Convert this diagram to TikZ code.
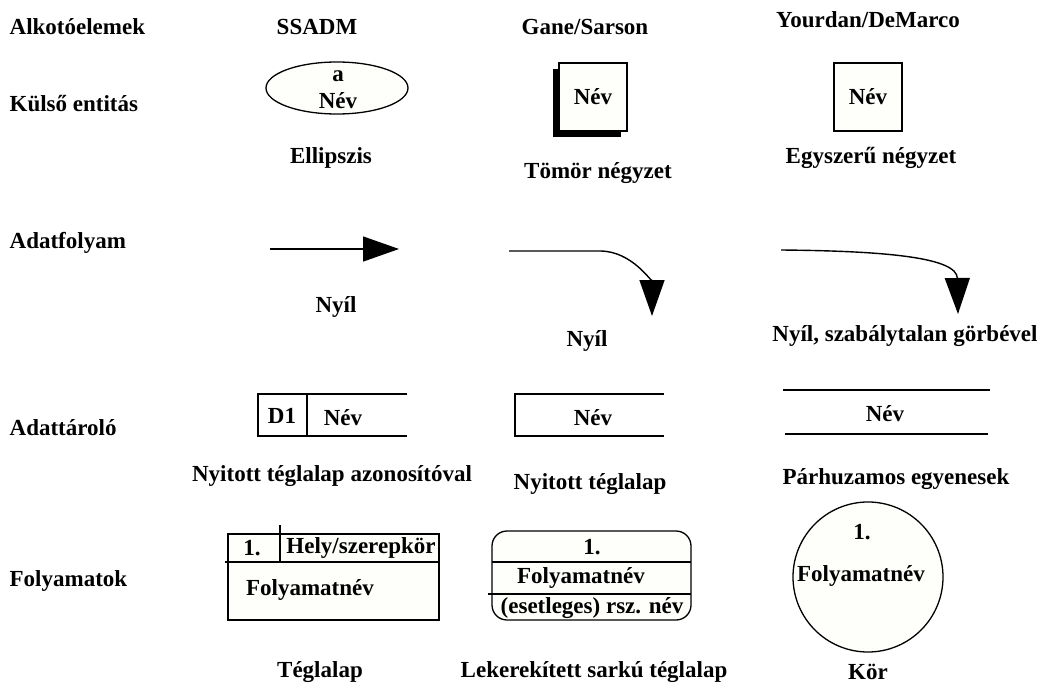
\documentclass[tikz,border=0pt]{standalone}
\usepackage{fontspec}
\setmainfont{Liberation Serif}
\usetikzlibrary{arrows.meta, positioning, shapes.geometric, shadows}
\definecolor{paper}{RGB}{254,254,250}

\begin{document}
\begin{tikzpicture}[x=1pt, y=-1pt, line width=1.3pt,
        every node/.style={font=\fontsize{23}{27}\selectfont\bfseries, inner sep=1pt},
        rowlabel/.style={anchor=west},
        flow/.style={-{Triangle[length=36pt, width=25pt]}, line width=1.4pt}]
            \useasboundingbox (0,0) rectangle (1039,685);

            % column and row headings
            \node (hdElem) [rowlabel] at (8,27) {Alkotóelemek};
            \node (hdSsadm) at (317,27) {SSADM};
            \node (hdGane) at (585,27) {Gane/Sarson};
            \node (hdYourdan) at (868,20) {Yourdan/DeMarco};
            \node (rowEnt) [rowlabel] at (8,104) {Külső entitás};
            \node (rowFlow) [rowlabel] at (8,243) {Adatfolyam};
            \node (rowStore) [rowlabel] at (8,428) {Adattároló};
            \node (rowProc) [rowlabel] at (8,581) {Folyamatok};

            % external entities
            \node (ssadmEnt) [ellipse, draw, fill=paper, minimum width=142pt, minimum height=52pt,
                align=center] at (337,88) {};
            \node (ssadmEntId) at (338,76) {a};
            \node (ssadmEntName) at (338,101) {Név};
            \node (ganeEnt) [draw, fill=paper, minimum size=68pt,
                drop shadow={shadow xshift=-6pt, shadow yshift=-6pt, fill=black, opacity=1}] at (593,97) {Név};
            \node (yourdanEnt) [draw, fill=paper, minimum size=68pt] at (868,97) {Név};
            \node (ssadmEntLbl) at (331,158) {Ellipszis};
            \node (ganeEntLbl) at (598,173) {Tömör négyzet};
            \node (yourdanEntLbl) at (871,158) {Egyszerű négyzet};

            % data flows
            \coordinate (f1a) at (270,249);
            \coordinate (f1b) at (399,249);
            \coordinate (f2a) at (509,251);
            \coordinate (f2m) at (600,251);
            \coordinate (f2b) at (652,316);
            \coordinate (f3a) at (781,250);
            \coordinate (f3b) at (958,314);
            \draw[flow] (f1a) -- (f1b);
            \draw[flow] (f2a) -- (f2m) to[out=0, in=90] (f2b);
            \draw[flow] (f3a) .. controls (890,251) and (957,258) .. (f3b);
            \node (ssadmFlowLbl) at (336,307) {Nyíl};
            \node (ganeFlowLbl) at (587,341) {Nyíl};
            \node (yourdanFlowLbl) at (905,336) {Nyíl, szabálytalan görbével};

            % data stores
            \draw (407,394) -- (258,394) -- (258,436) -- (407,436);
            \draw (307,394) -- (307,436);
            \node (ssadmStoreId) at (282,416) {D1};
            \node (ssadmStore) at (343,418) {Név};
            \draw (664,394) -- (515,394) -- (515,436) -- (664,436);
            \node (ganeStore) at (593,418) {Név};
            \draw (783,390) -- (990,390);
            \draw (785,434) -- (988,434);
            \node (yourdanStore) at (885,414) {Név};
            \node (ssadmStoreLbl) at (332,476) {Nyitott téglalap azonosítóval};
            \node (ganeStoreLbl) at (590,484) {Nyitott téglalap};
            \node (yourdanStoreLbl) at (896,479) {Párhuzamos egyenesek};

            % processes
            \filldraw[fill=paper] (228,534) rectangle (439,620);
            \draw (225,562) -- (440,562);
            \draw (280,525) -- (280,562);
            \node (ssadmProcNo) at (252,548) {1.};
            \node (ssadmProcLoc) at (361,548) {Hely/szerepkör};
            \node (ssadmProc) at (310,590) {Folyamatnév};

            \filldraw[fill=paper, rounded corners=15pt] (492,531) rectangle (691,620);
            \draw (492,562) -- (691,562);
            \draw (488,594) -- (691,594);
            \node (ganeProcNo) at (592,547) {1.};
            \node (ganeProc) at (581,578) {Folyamatnév};
            \node (ganeProcSub) at (592,608) {(esetleges) rsz. név};

            \node (yourdanProc) [circle, draw, fill=paper, minimum size=150pt] at (868,577) {};
            \node (yourdanProcNo) at (862,532) {1.};
            \node (yourdanProcName) at (861,576) {Folyamatnév};

            \node (ssadmProcLbl) at (320,672) {Téglalap};
            \node (ganeProcLbl) at (594,672) {Lekerekített sarkú téglalap};
            \node (yourdanProcLbl) at (868,672) {Kör};
        \end{tikzpicture}
\end{document}
